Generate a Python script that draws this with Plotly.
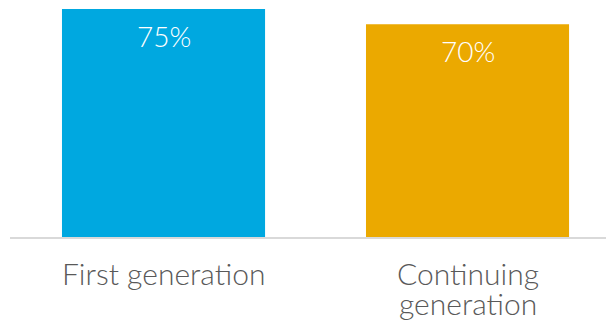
import plotly.graph_objects as go

# Share by generation status
categories = ["First generation", "Continuing generation"]
label_lines = [["First generation"], ["Continuing", "generation"]]
values = [75, 70]
colors = ["#00A8E0", "#EBA900"]
value_labels = ["75%", "70%"]

FONT = "Lato, 'Open Sans', sans-serif"
LINE_STEP = 30  # vertical spacing between wrapped category label lines (px)

fig = go.Figure(
    go.Bar(
        x=categories,
        y=values,
        marker=dict(color=colors, line=dict(width=0)),
        width=0.668,
        hoverinfo="skip",
    )
)

# value labels inside the top of each bar
for cat, val, lab in zip(categories, values, value_labels):
    fig.add_annotation(
        x=cat,
        y=val,
        text=lab,
        showarrow=False,
        yanchor="top",
        yshift=-8,
        font=dict(family=FONT, size=28, color="#FFFFFF", weight=300),
    )

# category labels under the axis, one annotation per line
for cat, lines in zip(categories, label_lines):
    for i, line in enumerate(lines):
        fig.add_annotation(
            x=cat,
            y=0,
            text=line,
            showarrow=False,
            yanchor="top",
            yshift=-16 - i * LINE_STEP,
            font=dict(family=FONT, size=30, color="#595959", weight=300),
        )

fig.update_layout(
    width=606,
    height=322,
    margin=dict(l=10, r=0, t=0, b=85, autoexpand=False),
    paper_bgcolor="#FFFFFF",
    plot_bgcolor="#FFFFFF",
    showlegend=False,
    font=dict(family=FONT),
)

fig.update_xaxes(
    range=[-0.505, 1.4555],
    showticklabels=False,
    showline=True,
    linecolor="#D9D9D9",
    linewidth=2,
    ticks="",
    showgrid=False,
    zeroline=False,
    automargin=False,
)
fig.update_yaxes(
    range=[0, 78],
    visible=False,
    showgrid=False,
    zeroline=False,
    automargin=False,
)

fig.write_html("out.html")
